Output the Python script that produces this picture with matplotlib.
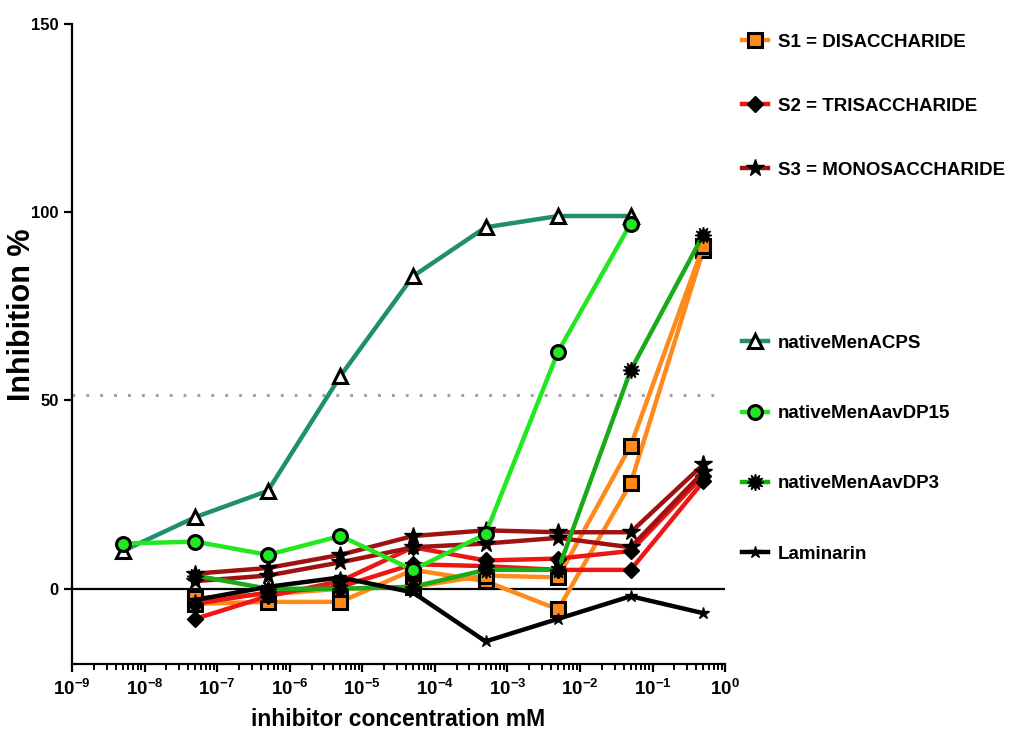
import matplotlib
matplotlib.use("Agg")
import matplotlib.pyplot as plt
import numpy as np
from matplotlib.lines import Line2D

plt.rcParams['font.family'] = ['Liberation Sans', 'DejaVu Sans']
plt.rcParams['font.weight'] = 'bold'
plt.rcParams['mathtext.fontset'] = 'custom'
plt.rcParams['mathtext.rm'] = 'Liberation Sans:bold'
plt.rcParams['mathtext.it'] = 'Liberation Sans:bold'
plt.rcParams['mathtext.bf'] = 'Liberation Sans:bold'

# concentrations (mM)
conc = [5e-9, 5e-8, 5e-7, 5e-6, 5e-5, 5e-4, 5e-3, 5e-2, 5e-1]
nan = np.nan

# inhibition % per inhibitor (replicate curves where two were drawn)
s1_a = [nan, -4.0, -3.5, -3.5, 5.0, 2.0, -5.5, 28.0, 90.0]
s1_b = [nan, -2.5, -1.5, 0.0, 0.5, 3.5, 3.0, 38.0, 91.0]
s2_a = [nan, -8.0, -2.0, 2.0, 11.0, 7.5, 8.0, 10.0, 30.0]
s2_b = [nan, -4.0, -1.0, 0.5, 6.5, 6.0, 5.0, 5.0, 28.5]
s3_a = [nan, 4.0, 5.5, 9.0, 14.0, 15.5, 15.0, 15.0, 33.0]
s3_b = [nan, 2.0, 3.5, 7.0, 11.0, 12.0, 13.5, 11.0, 31.0]
acps = [10.0, 19.0, 26.0, 56.5, 83.0, 96.0, 99.0, 99.0, nan]
dp15 = [12.0, 12.5, 9.0, 14.0, 5.0, 14.5, 63.0, 97.0, nan]
dp3 = [nan, 3.5, 0.0, 0.0, 0.5, 5.0, 5.0, 58.0, 94.0]
laminarin = [nan, -3.0, 0.5, 3.0, -1.0, -14.0, -8.0, -2.0, -6.5]

half_line = 51.5

orange = '#ff8a1c'
red = '#ee1515'
darkred = '#a01212'
teal = '#1f8f6f'
lime = '#22e822'
green = '#1aab1a'

fig = plt.figure(figsize=(10.11, 7.35), dpi=100)
ax = fig.add_axes([0.0712, 0.0966, 0.646, 0.8707])

lw = 3.2
ms = 10
for ys in (s1_a, s1_b):
    ax.plot(conc, ys, color=orange, lw=lw, marker='s', ms=ms, mfc=orange,
            mec='black', mew=2.2)
for ys in (s2_a, s2_b):
    ax.plot(conc, ys, color=red, lw=lw, marker='D', ms=8, mfc='black', mec='black')
for ys in (s3_a, s3_b):
    ax.plot(conc, ys, color=darkred, lw=lw, marker='*', ms=13, mfc='black', mec='black')
ax.plot(conc, acps, color=teal, lw=lw, marker='^', ms=ms, mfc='white', mec='black', mew=2.2)
ax.plot(conc, dp15, color=lime, lw=lw, marker='o', ms=ms, mfc=lime, mec='black', mew=2.2)
ax.plot(conc, dp3, color=green, lw=lw, marker=(12, 1, 0), ms=12, mfc='black', mec='black')
ax.plot(conc, laminarin, color='black', lw=lw, marker='*', ms=9, mfc='black', mec='black')

ax.axhline(0, color='black', lw=1.6, zorder=1)
ax.axhline(half_line, color='#999999', lw=2, ls=(0, (1, 4)), zorder=1)

ax.set_xscale('log')
ax.set_xlim(1e-9, 1)
ax.set_ylim(-20, 150)
ax.set_yticks([0, 50, 100, 150])
ax.set_xticks([10.0 ** k for k in range(-9, 1)])
ax.set_xticklabels([r'$\mathregular{10^{%d}}$' % k for k in range(-9, 1)])
ax.xaxis.set_minor_locator(matplotlib.ticker.LogLocator(base=10, subs=np.arange(2, 10), numticks=20))
ax.xaxis.set_minor_formatter(matplotlib.ticker.NullFormatter())

for side in ('top', 'right'):
    ax.spines[side].set_visible(False)
ax.spines['left'].set_linewidth(1.6)
ax.spines['bottom'].set_linewidth(1.6)
ax.tick_params(axis='y', which='major', length=6, width=1.6, labelsize=12)
ax.tick_params(axis='x', which='major', length=6, width=1.6, labelsize=13.5, pad=5)
ax.tick_params(axis='x', which='minor', length=4, width=1.4)

ax.set_xlabel('inhibitor concentration mM', fontsize=16.5, fontweight='bold', labelpad=6)
ax.set_ylabel('Inhibition %', fontsize=22, fontweight='bold')
ax.yaxis.set_label_coords(-0.054, 0.545)

h1 = [Line2D([], [], color=orange, lw=lw, marker='s', ms=ms, mfc=orange, mec='black', mew=2.2),
      Line2D([], [], color=red, lw=lw, marker='D', ms=8, mfc='black', mec='black'),
      Line2D([], [], color=darkred, lw=lw, marker='*', ms=13, mfc='black', mec='black')]
l1 = ['S1 = DISACCHARIDE', 'S2 = TRISACCHARIDE', 'S3 = MONOSACCHARIDE']
leg1 = ax.legend(h1, l1, loc='upper left', bbox_to_anchor=(1.0, 1.011), frameon=False,
                 fontsize=13.5, labelspacing=2.5, handlelength=1.4, handletextpad=0.5)
ax.add_artist(leg1)

h2 = [Line2D([], [], color=teal, lw=lw, marker='^', ms=ms, mfc='white', mec='black', mew=2.2),
      Line2D([], [], color=lime, lw=lw, marker='o', ms=ms, mfc=lime, mec='black', mew=2.2),
      Line2D([], [], color=green, lw=lw, marker=(12, 1, 0), ms=12, mfc='black', mec='black'),
      Line2D([], [], color='black', lw=lw, marker='*', ms=9, mfc='black', mec='black')]
l2 = ['nativeMenACPS', 'nativeMenAavDP15', 'nativeMenAavDP3', 'Laminarin']
ax.legend(h2, l2, loc='upper left', bbox_to_anchor=(1.0, 0.5406), frameon=False,
          fontsize=13.5, labelspacing=2.83, handlelength=1.4, handletextpad=0.5)

fig.savefig('out.png', dpi=100)
